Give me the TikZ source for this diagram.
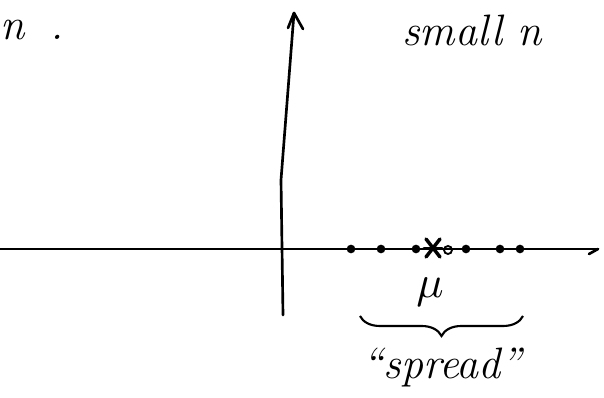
\documentclass[tikz,border=0pt]{standalone}
\usetikzlibrary{decorations.pathreplacing,calc}
\begin{document}
\begin{tikzpicture}[x=0.75pt,y=-0.75pt,
  axis/.style={line width=2pt,line cap=round},
  pt/.style={circle,fill=black,inner sep=0pt,minimum size=6.5pt},
  hand/.style={font=\fontsize{33}{33}\selectfont\itshape,inner sep=0pt}]
\useasboundingbox (0,0) rectangle (604,398);
% horizontal axis
\coordinate (hl) at (0,249);
\coordinate (hr) at (598,249);
\draw[axis] (hl) -- (hr);
\draw[axis] (hr) -- ++(-9,5);
% vertical axis
\coordinate (vb) at (283,315);
\coordinate (vm) at (281,180);
\coordinate (vt) at (294,13);
\draw[axis] (vb) -- (vm) -- (vt);
\draw[axis] (vt) -- ++(-6,15);
\draw[axis] (vt) -- ++(9,16);
% sample points
\foreach \x/\n in {351/p1,381/p2,416/p3,466/p5,500/p6,520/p7}
  \node[pt] (\n) at (\x,249) {};
\node[circle,draw,line width=1.4pt,inner sep=0pt,minimum size=6pt] (p4) at (448,250) {};
\coordinate (mu0) at (433,248);
\draw[line width=2.6pt,line cap=round] ($(mu0)+(-7,-9)$) -- ($(mu0)+(7,9)$);
\draw[line width=2.6pt,line cap=round] ($(mu0)+(7,-9)$) -- ($(mu0)+(-7,9)$);
\draw[line width=2pt,line cap=round] ($(mu0)+(-9,0)$) -- ($(mu0)+(9,0)$);
% labels
\node[hand,anchor=west] (n) at (0,30) {n\hspace{0.6em}.};
\node[hand,anchor=west] (small) at (402,30) {small n};
\node[inner sep=0pt] (mu) at (430,292) {\scalebox{3.4}{$\mu$}};
\coordinate (bl) at (360,316);
\coordinate (br) at (523,316);
\draw[line width=1.6pt,decorate,decoration={brace,mirror,amplitude=15pt}] (bl) -- (br);
\node[hand] (spread) at (442,368) {``spread''};
\end{tikzpicture}
\end{document}
